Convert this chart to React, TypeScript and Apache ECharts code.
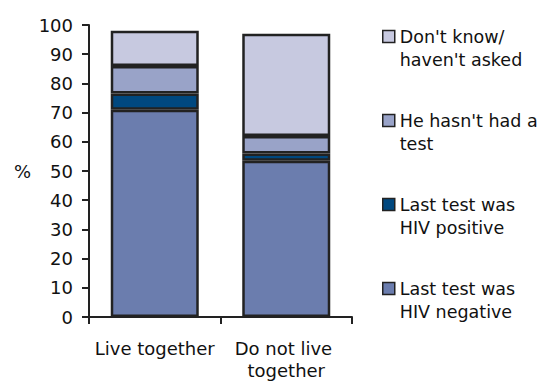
import React, { useEffect, useRef } from "react";
import * as echarts from "echarts";

const categories = ["Live together", "Do not live together"];
const hivNegative = [71, 53.5];
const hivPositive = [5.5, 2.5];
const hasntHadTest = [9.5, 6];
const dontKnow = [12, 35];
const yTicks = [0, 10, 20, 30, 40, 50, 60, 70, 80, 90, 100];

const seriesNames = [
  "Last test was\nHIV negative",
  "Last test was\nHIV positive",
  "He hasn't had a\ntest",
  "Don't know/\nhaven't asked",
];
const seriesColors = ["#6b7dae", "#00487f", "#99a3c8", "#c7c9e0"];
const seriesData = [hivNegative, hivPositive, hasntHadTest, dontKnow];

const FONT = "DejaVu Sans";

export default function App() {
  const ref = useRef<HTMLDivElement>(null);
  useEffect(() => {
    document.body.style.margin = "0";
    const chart = echarts.init(ref.current!, null, { renderer: "svg" });
    chart.setOption({
      animation: false,
      backgroundColor: "#ffffff",
      textStyle: { fontFamily: FONT },
      grid: { left: 89, top: 25, width: 263, height: 292, containLabel: false },
      legend: {
        orient: "vertical",
        left: 382,
        top: 2,
        padding: 0,
        itemWidth: 12,
        itemHeight: 12,
        itemGap: 15,
        icon: "rect",
        data: [seriesNames[3], seriesNames[2], seriesNames[1], seriesNames[0]],
        formatter: (name: string) => "\n" + name,
        textStyle: {
          fontFamily: FONT,
          fontSize: 17.5,
          lineHeight: 23,
          color: "#111",
        },
        itemStyle: { borderColor: "#222", borderWidth: 1.5 },
      },
      xAxis: {
        type: "category",
        data: categories,
        axisLine: { lineStyle: { color: "#222", width: 2 } },
        axisTick: { show: true, length: 7, lineStyle: { color: "#222", width: 2 } },
        axisLabel: {
          fontFamily: FONT,
          fontSize: 18,
          lineHeight: 22,
          color: "#111",
          margin: 20,
          width: 128,
          overflow: "break",
          interval: 0,
        },
      },
      yAxis: {
        type: "value",
        min: 0,
        max: 100,
        interval: 10,
        name: "%",
        nameLocation: "middle",
        nameRotate: 0,
        nameGap: 58,
        nameTextStyle: { fontFamily: FONT, fontSize: 18, color: "#111" },
        splitLine: { show: false },
        axisLine: { show: true, lineStyle: { color: "#222", width: 2 } },
        axisTick: { show: true, length: 7, lineStyle: { color: "#222", width: 2 } },
        axisLabel: {
          fontFamily: FONT,
          fontSize: 18,
          color: "#111",
          margin: 16,
          formatter: (v: number) => (yTicks.includes(v) ? String(v) : ""),
        },
      },
      series: seriesNames.map((name, i) => ({
        name,
        type: "bar",
        stack: "total",
        barWidth: 88,
        data: seriesData[i],
        itemStyle: { color: seriesColors[i], borderColor: "#222", borderWidth: 2.5 },
      })),
    });
    return () => chart.dispose();
  }, []);
  return <div ref={ref} style={{ width: 552, height: 382 }} />;
}
